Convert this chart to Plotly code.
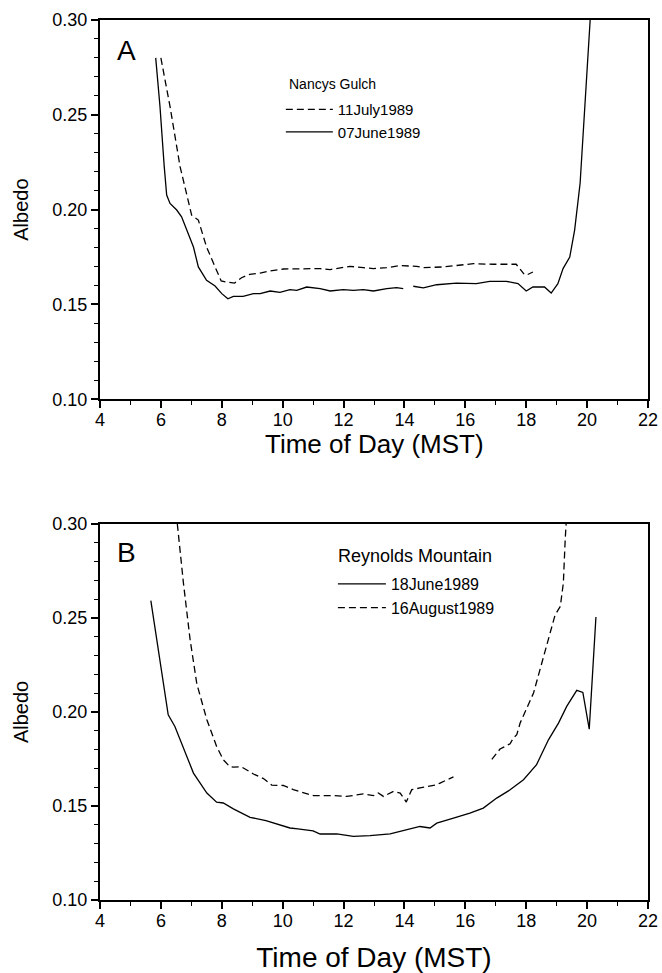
import plotly.graph_objects as go

# ---------------- data ----------------
# Panel A: Nancys Gulch
a_jul_x = [6.0, 6.30, 6.63, 7.01, 7.23, 7.50, 7.78, 7.98, 8.15, 8.42, 8.65, 8.92, 9.26, 9.59, 10.02,
           10.57, 11.23, 11.56, 11.88, 12.21, 12.65, 12.98, 13.42, 13.86, 14.40, 14.62, 15.28, 15.83,
           16.27, 16.91, 17.58, 17.67, 17.93, None, 18.05, 18.22]
a_jul_y = [0.280, 0.2544, 0.2227, 0.1971, 0.1945, 0.1803, 0.1698, 0.1624, 0.1618, 0.1613, 0.1641, 0.1659,
           0.1665, 0.1677, 0.1687, 0.1689, 0.1689, 0.1684, 0.1694, 0.1701, 0.1694, 0.1689, 0.1694, 0.1705,
           0.1701, 0.1694, 0.1698, 0.1706, 0.1715, 0.1712, 0.1715, 0.1712, 0.1660, None, 0.1658, 0.1671]

a_jun_x = [5.83, 5.97, 6.11, 6.19, 6.30, 6.52, 6.68, 6.90, 7.07, 7.23, 7.50, 7.78, 8.0, 8.2, 8.38, 8.7,
           9.04, 9.26, 9.59, 9.91, 10.24, 10.46, 10.79, 11.23, 11.56, 11.99, 12.32, 12.65, 12.98, 13.42,
           13.74, 13.96, None, 14.29, 14.62, 15.06, 15.71, 16.36, 16.80, 17.35, 17.73, 18.0, 18.22, 18.6,
           18.82, 19.04, 19.21, 19.43, 19.59, 19.77, 19.84, 20.1]
a_jun_y = [0.280, 0.2544, 0.2227, 0.2077, 0.2033, 0.1998, 0.1962, 0.1874, 0.1803, 0.1698, 0.1627, 0.1597,
           0.1557, 0.1530, 0.1543, 0.1543, 0.1557, 0.1557, 0.1571, 0.1564, 0.1578, 0.1574, 0.1592, 0.1583,
           0.1571, 0.1578, 0.1574, 0.1578, 0.1571, 0.1583, 0.1589, 0.1583, None, 0.1596, 0.1587, 0.1604,
           0.1613, 0.1610, 0.1622, 0.1622, 0.1610, 0.1571, 0.1592, 0.1592, 0.1560, 0.1610, 0.1689, 0.1750,
           0.1892, 0.2139, 0.2315, 0.300]

# Panel B: Reynolds Mountain
b_jun_x = [5.67, 5.86, 6.03, 6.24, 6.46, 6.74, 7.07, 7.29, 7.51, 7.83, 8.05, 8.38, 8.93, 9.45, 9.9,
           10.24, 10.5, 10.79, 11.0, 11.23, 11.78, 12.32, 12.87, 13.53, 14.08, 14.51, 14.84, 15.06,
           15.61, 16.15, 16.59, 17.03, 17.47, 17.91, 18.34, 18.73, 19.06, 19.33, 19.66, 19.86, 20.07,
           20.29]
b_jun_y = [0.2592, 0.2384, 0.2207, 0.1985, 0.1923, 0.1808, 0.1675, 0.1622, 0.1569, 0.1520, 0.1516,
           0.1485, 0.1440, 0.1422, 0.1400, 0.1383, 0.1378, 0.1374, 0.1368, 0.1351, 0.1352, 0.1338,
           0.1342, 0.1352, 0.1374, 0.1391, 0.1383, 0.1409, 0.1436, 0.1462, 0.1489, 0.1542, 0.1586,
           0.1640, 0.1720, 0.1852, 0.1941, 0.2030, 0.2115, 0.2104, 0.1909, 0.2505]

b_aug_x = [6.54, 6.74, 6.96, 7.18, 7.51, 7.83, 8.05, 8.26, 8.38, 8.65, 9.04, 9.37, 9.64, 10.02, 10.35,
           10.57, 11.01, 11.67, 12.10, 12.65, 12.98, 13.14, 13.31, 13.64, 13.86, 14.06, 14.24, 14.51,
           14.84, 15.06, 15.17, 15.61, None, 16.87, 17.14, 17.47, 17.58, 17.69, 17.80, 18.24, 18.67,
           18.95, 19.12, 19.22, 19.28, 19.31]
b_aug_y = [0.300, 0.2686, 0.2384, 0.2150, 0.1959, 0.1817, 0.1746, 0.1710, 0.1707, 0.1708, 0.1670,
           0.1646, 0.1611, 0.1609, 0.1587, 0.1575, 0.1555, 0.1555, 0.1551, 0.1564, 0.1555, 0.1569,
           0.1551, 0.1578, 0.1569, 0.1521, 0.1587, 0.1596, 0.1604, 0.1613, 0.1622, 0.1655, None,
           0.1748, 0.1803, 0.1831, 0.1862, 0.1879, 0.1941, 0.2101, 0.2349, 0.2517, 0.2562, 0.2686,
           0.2916, 0.300]

x_range = [4, 22]
y_range = [0.10, 0.30]
x_ticks = [4, 6, 8, 10, 12, 14, 16, 18, 20, 22]
y_ticks = [0.10, 0.15, 0.20, 0.25, 0.30]

FONT = "Liberation Sans, Arial, sans-serif"
DASH = "7px,4px"
X_TITLE = "Time of Day (MST)"

fig = go.Figure()
fig.add_trace(go.Scatter(x=a_jul_x, y=a_jul_y, name="11July1989", mode="lines",
                         line=dict(color="black", width=1.3, dash=DASH),
                         xaxis="x", yaxis="y", legend="legend", connectgaps=False))
fig.add_trace(go.Scatter(x=a_jun_x, y=a_jun_y, name="07June1989", mode="lines",
                         line=dict(color="black", width=1.3),
                         xaxis="x", yaxis="y", legend="legend", connectgaps=False))
fig.add_trace(go.Scatter(x=b_jun_x, y=b_jun_y, name="18June1989", mode="lines",
                         line=dict(color="black", width=1.3),
                         xaxis="x2", yaxis="y2", legend="legend2", connectgaps=False))
fig.add_trace(go.Scatter(x=b_aug_x, y=b_aug_y, name="16August1989", mode="lines",
                         line=dict(color="black", width=1.3, dash=DASH),
                         xaxis="x2", yaxis="y2", legend="legend2", connectgaps=False))

def xax(anchor, title):
    return dict(range=x_range, tickvals=x_ticks, ticks="outside", ticklen=7, tickwidth=1.5,
                tickcolor="black", ticklabelstandoff=-4, automargin=False,
                showline=True, linecolor="black", linewidth=2.2, mirror=True, showgrid=False,
                zeroline=False, tickfont=dict(size=18, color="black", family=FONT),
                minor=dict(dtick=1, ticks="outside", ticklen=4, tickwidth=1.2, tickcolor="black"),
                title=dict(text=title, font=dict(size=28, color="black", family=FONT), standoff=18),
                anchor=anchor)

def yax(domain, anchor):
    return dict(range=y_range, tickvals=y_ticks, tickformat=".2f", ticks="outside", ticklen=7,
                tickwidth=1.5, tickcolor="black", ticklabelstandoff=0, automargin=False,
                showline=True, linecolor="black", linewidth=2.2, mirror=True,
                showgrid=False, zeroline=False, domain=domain,
                tickfont=dict(size=18, color="black", family=FONT),
                minor=dict(dtick=0.01, ticks="outside", ticklen=4, tickwidth=1.2, tickcolor="black"),
                title=dict(text="Albedo", font=dict(size=20, color="black", family=FONT), standoff=18),
                anchor=anchor)

fig.update_layout(
    width=662, height=973,
    margin=dict(l=100, r=14, t=20, b=73, autoexpand=False),
    paper_bgcolor="white", plot_bgcolor="white",
    font=dict(family=FONT, color="black"),
    xaxis=xax("y", None),
    yaxis=yax([0.569, 1.0], "x"),
    xaxis2=xax("y2", X_TITLE),
    yaxis2=yax([0.0, 0.4273], "x2"),
    legend=dict(x=0.33, y=0.917, xanchor="left", yanchor="top", bgcolor="rgba(0,0,0,0)",
                font=dict(size=15, family=FONT), tracegroupgap=0, itemwidth=47),
    legend2=dict(x=0.425, y=0.3784, xanchor="left", yanchor="top", bgcolor="rgba(0,0,0,0)",
                 font=dict(size=16, family=FONT), tracegroupgap=0, itemwidth=48),
    annotations=[
        dict(text="A", x=0.0266, y=0.92, xref="x domain", yref="y domain", showarrow=False,
             xanchor="left", yanchor="middle", font=dict(size=28, family=FONT, color="black")),
        dict(text="B", x=0.0266, y=0.924, xref="x2 domain", yref="y2 domain", showarrow=False,
             xanchor="left", yanchor="middle", font=dict(size=28, family=FONT, color="black")),
        dict(text=X_TITLE, x=0.5, y=(900 - 444) / 880, xref="x domain", yref="paper",
             showarrow=False, xanchor="center", yanchor="middle",
             font=dict(size=26, family=FONT, color="black")),
        dict(text="Nancys Gulch", x=0.341, y=0.9273, xref="paper", yref="paper", showarrow=False,
             xanchor="left", yanchor="middle", font=dict(size=14, family=FONT, color="black")),
        dict(text="Reynolds Mountain", x=0.4307, y=0.3909, xref="paper", yref="paper",
             showarrow=False, xanchor="left", yanchor="middle",
             font=dict(size=18, family=FONT, color="black")),
    ],
)

fig.write_html("out.html",
               config={"displayModeBar": False},
               post_script="document.body.style.margin='0';document.body.style.padding='0';"
                           "document.body.style.overflow='hidden';")
